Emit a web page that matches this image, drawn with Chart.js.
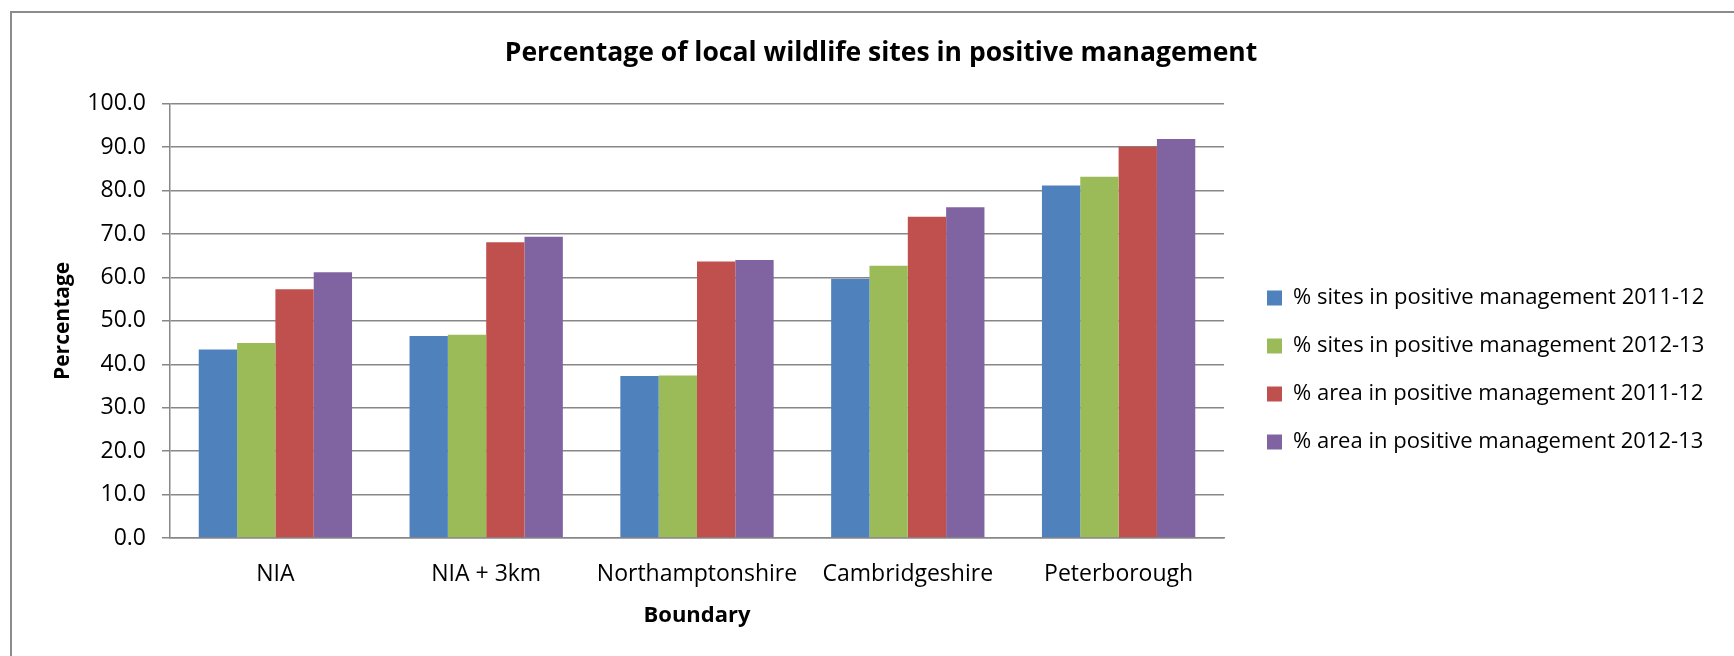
<!DOCTYPE html>
<html>
<head>
<meta charset="utf-8">
<title>Percentage of local wildlife sites in positive management</title>
<script src="https://cdn.jsdelivr.net/npm/chart.js@4/dist/chart.umd.min.js"></script>
<style>
  html, body { margin: 0; padding: 0; background: #fff; overflow: hidden; }
  #wrap { position: relative; width: 1734px; height: 656px; }
  #frame {
    position: absolute; left: 10px; top: 11px; width: 1800px; height: 700px;
    border-left: 2px solid #8c8c8c; border-top: 2px solid #8c8c8c;
    pointer-events: none;
  }
  canvas { position: absolute; left: 0; top: 0; }
</style>
</head>
<body>
<div id="wrap">
  <canvas id="myChart" width="1734" height="656"></canvas>
  <div id="frame"></div>
</div>
<script>
/* globals Chart:false */

const boundaries = ['NIA', 'NIA + 3km', 'Northamptonshire', 'Cambridgeshire', 'Peterborough'];
const sites2011 = [43.4, 46.5, 37.3, 59.7, 81.2];
const sites2012 = [44.9, 46.8, 37.4, 62.7, 83.2];
const area2011 = [57.3, 68.1, 63.7, 74.0, 90.1];
const area2012 = [61.2, 69.4, 64.0, 76.2, 91.9];
const yTicks = [0, 10, 20, 30, 40, 50, 60, 70, 80, 90, 100];

(() => {
  'use strict'

  const FONT = 'Open Sans'
  const GRID = '#878787'
  const LEGEND_WIDTH = 493

  // fixed legend width (the layout caps side boxes at a quarter of the canvas)
  // and a small nudge so the plot keeps its own width
  const legendPlace = {
    id: 'legendPlace',
    beforeLayout (chart) {
      const lg = chart.legend
      if (lg && !lg._fixedFit) {
        const fit = lg.fit.bind(lg)
        lg.fit = () => { fit(); lg.width = LEGEND_WIDTH }
        lg._fixedFit = true
      }
    },
    afterLayout (chart) {
      const lg = chart.legend
      lg.left += 17
      lg.right += 17
      lg.top += 42
      lg.bottom += 42
    }
  }

  const ctx = document.getElementById('myChart')
  // eslint-disable-next-line no-unused-vars
  const myChart = new Chart(ctx, {
    type: 'bar',
    data: {
      labels: boundaries,
      datasets: [
        { label: '% sites in positive management 2011-12', data: sites2011, backgroundColor: '#4F81BD' },
        { label: '% sites in positive management 2012-13', data: sites2012, backgroundColor: '#9BBB59' },
        { label: '% area in positive management 2011-12', data: area2011, backgroundColor: '#C0504D' },
        { label: '% area in positive management 2012-13', data: area2012, backgroundColor: '#8064A2' }
      ]
    },
    plugins: [legendPlace],
    options: {
      responsive: false,
      animation: false,
      devicePixelRatio: 1,
      categoryPercentage: 4 / 5.5,
      barPercentage: 1,
      layout: { padding: { left: 45, right: 17, top: 0, bottom: 0 } },
      font: { family: FONT },
      color: '#000',
      scales: {
        x: {
          grid: { display: false, drawTicks: false },
          border: { display: true, color: GRID, width: 1.5 },
          ticks: { color: '#000', font: { family: FONT, size: 23 }, padding: 23, maxRotation: 0, autoSkip: false },
          title: { display: true, text: 'Boundary', color: '#000', font: { family: FONT, size: 22, weight: 'bold' }, padding: { top: 0, bottom: 27 } },
          afterFit (scale) { scale.height = 118 }
        },
        y: {
          min: 0,
          max: 100,
          afterBuildTicks (scale) { scale.ticks = yTicks.map(v => ({ value: v })) },
          grid: { color: GRID, lineWidth: 1.5, tickLength: 8, drawTicks: true },
          border: { display: true, color: GRID, width: 1.5 },
          ticks: {
            color: '#000',
            font: { family: FONT, size: 23 },
            padding: 16,
            callback: v => v.toFixed(1)
          },
          title: { display: true, text: 'Percentage', color: '#000', font: { family: FONT, size: 21, weight: 'bold' }, padding: { top: 5, bottom: 0 } },
          afterFit (scale) { scale.width = 125 }
        }
      },
      plugins: {
        title: {
          display: true,
          text: 'Percentage of local wildlife sites in positive management',
          color: '#000',
          font: { family: FONT, size: 26.5, weight: 'bold' },
          padding: { top: 38, bottom: 34 }
        },
        legend: {
          position: 'right',
          labels: {
            color: '#000',
            font: { family: FONT, size: 22 },
            boxWidth: 15,
            boxHeight: 15,
            padding: 26
          }
        },
        tooltip: { enabled: false }
      }
    }
  })
})()
</script>
</body>
</html>
